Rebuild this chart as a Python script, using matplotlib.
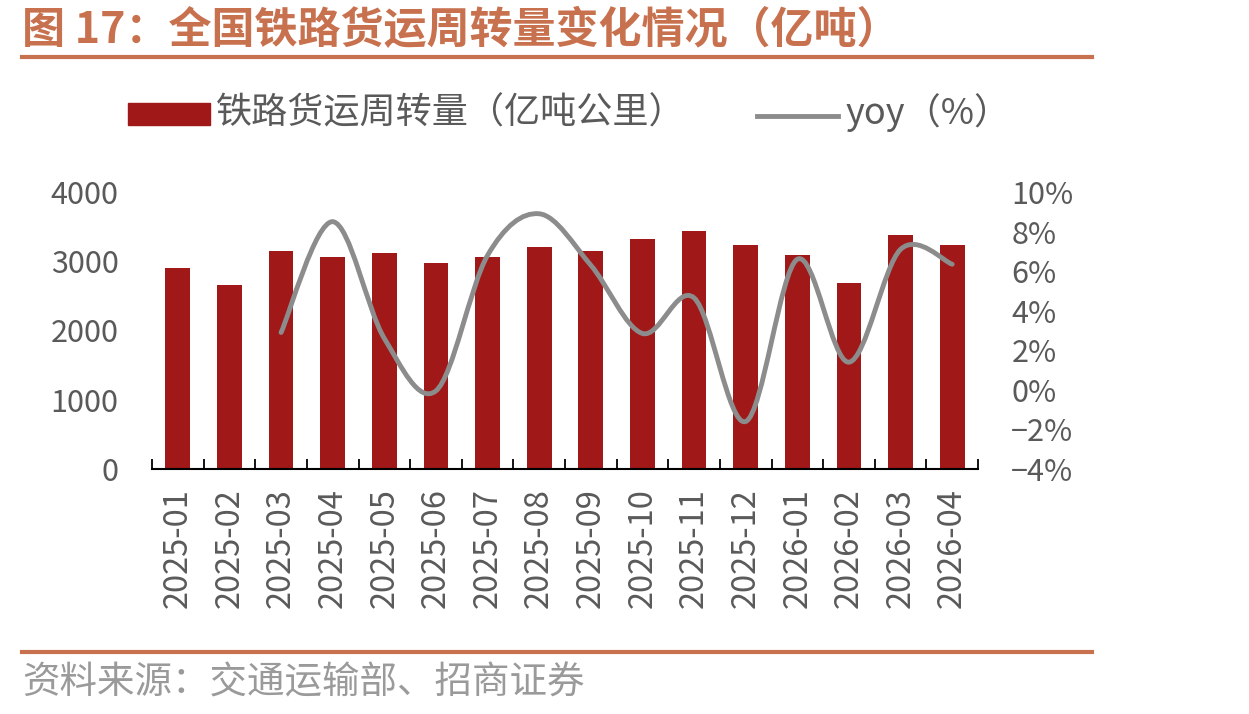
import matplotlib
matplotlib.use("Agg")
import matplotlib.pyplot as plt
from matplotlib.path import Path
from matplotlib.patches import PathPatch, Rectangle
from matplotlib.lines import Line2D
import numpy as np

plt.rcParams["font.family"] = ["Noto Sans CJK SC", "DejaVu Sans"]

# data
months = ["2025-01", "2025-02", "2025-03", "2025-04", "2025-05", "2025-06",
          "2025-07", "2025-08", "2025-09", "2025-10", "2025-11", "2025-12",
          "2026-01", "2026-02", "2026-03", "2026-04"]
turnover = [2900, 2660, 3150, 3060, 3120, 2975, 3060, 3205,
            3150, 3320, 3435, 3235, 3090, 2690, 3380, 3235]
# yoy starts at 2025-03
yoy_months = months[2:]
yoy = [2.9, 8.5, 2.6, -0.05, 6.8, 8.9, 6.3, 2.85, 4.65, -1.6, 6.6, 1.4, 7.1, 6.35]
left_ticks = [0, 1000, 2000, 3000, 4000]
right_ticks = [-4, -2, 0, 2, 4, 6, 8, 10]

TITLE_C = "#C8714F"
BAR_C = "#A01818"
LINE_C = "#8C8C8C"
TXT_C = "#5A5A5A"

W, H = 1249, 714
fig = plt.figure(figsize=(W / 100, H / 100), dpi=100)


def fx(px):
    return px / W


def fy(py):
    return 1 - py / H


# title and frame lines
fig.text(fx(22), fy(30), "图 17：全国铁路货运周转量变化情况（亿吨）", fontsize=31,
         fontweight="bold", color=TITLE_C, va="center", ha="left")
fig.add_artist(Line2D([fx(22), fx(1092)], [fy(57), fy(57)], color=TITLE_C, lw=3))
fig.add_artist(Line2D([fx(22), fx(1092)], [fy(652), fy(652)], color=TITLE_C, lw=3))
fig.text(fx(22), fy(683), "资料来源：交通运输部、招商证券", fontsize=27,
         color="#9A9A9A", va="center", ha="left")

# legend drawn by hand to mimic the layout
fig.add_artist(Rectangle((fx(128), fy(125)), fx(210) - fx(128), fy(103) - fy(125),
                         transform=fig.transFigure, color=BAR_C))
fig.text(fx(216), fy(113), "铁路货运周转量（亿吨公里）", fontsize=26,
         color=TXT_C, va="center", ha="left")
fig.add_artist(Line2D([fx(757), fx(838)], [fy(116), fy(116)], color=LINE_C, lw=3.5))
fig.text(fx(846), fy(113), "yoy（%）", fontsize=26, color=TXT_C,
         va="center", ha="left")

ax = fig.add_axes([fx(152), fy(469), fx(978) - fx(152), fy(192) - fy(469)])
x = np.arange(len(months))
ax.bar(x, turnover, width=0.48, color=BAR_C, zorder=2)
ax.set_xlim(-0.5, len(months) - 0.5)
ax.set_ylim(0, 4000)
ax.set_yticks(left_ticks)
ax.set_yticklabels([str(v) for v in left_ticks])
ax.set_xticks(x)
ax.set_xticklabels(months, rotation=90)
ax.set_xticks(np.arange(-0.5, len(months)), minor=True)
ax.tick_params(axis="x", which="major", length=0, pad=14, labelsize=23.5, labelcolor=TXT_C)
ax.tick_params(axis="x", which="minor", length=7, direction="in", width=1.3, color="black")
ax.tick_params(axis="y", length=0, pad=24, labelsize=22, labelcolor=TXT_C)
for s in ["top", "left", "right"]:
    ax.spines[s].set_visible(False)
ax.spines["bottom"].set_linewidth(1.5)
ax.spines["bottom"].set_zorder(3)

ax2 = ax.twinx()
ax2.set_ylim(-4, 10)
ax2.set_yticks(right_ticks)
ax2.set_yticklabels([f"{v}%".replace("-", "\u2212") for v in right_ticks])
ax2.tick_params(axis="y", length=0, pad=24, labelsize=22, labelcolor=TXT_C)
for s in ax2.spines.values():
    s.set_visible(False)

# smoothed line (Excel style Bezier through the data points)
xl = np.array([months.index(m) for m in yoy_months], dtype=float)
yl = np.array(yoy)
pts = np.column_stack([xl, yl])
verts = [tuple(pts[0])]
codes = [Path.MOVETO]
n = len(pts)
for i in range(n - 1):
    p0 = pts[max(i - 1, 0)]
    p1 = pts[i]
    p2 = pts[i + 1]
    p3 = pts[min(i + 2, n - 1)]
    c1 = p1 + (p2 - p0) / 6
    c2 = p2 - (p3 - p1) / 6
    verts += [tuple(c1), tuple(c2), tuple(p2)]
    codes += [Path.CURVE4] * 3
ax2.add_patch(PathPatch(Path(verts, codes), fill=False, edgecolor=LINE_C,
                        lw=3.5, capstyle="round", zorder=4))

fig.savefig("out.png", dpi=100)
